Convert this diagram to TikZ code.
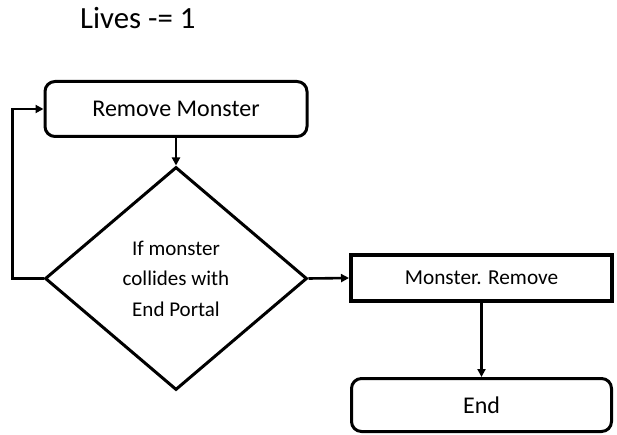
\documentclass[tikz,border=0pt]{standalone}
\usepackage{fontspec}
\setmainfont{Carlito}
\usetikzlibrary{shapes.geometric,arrows.meta}

\tikzset{
  roundbox/.style={draw, line width=3pt, rounded corners=10pt, inner sep=0pt,
    font=\fontsize{24}{28}\selectfont},
  plainbox/.style={draw, line width=4pt, inner sep=0pt,
    font=\fontsize{21.3}{25}\selectfont},
  decision/.style={draw, diamond, line width=3pt, inner sep=0pt, align=center,
    minimum width=262pt, minimum height=223pt,
    font=\fontsize{21}{30.5}\selectfont},
  flow/.style={line width=2.6pt, -{Triangle[length=8pt,width=8pt]}},
}

\begin{document}
\begin{tikzpicture}[x=1pt,y=-1pt]
  \useasboundingbox (0,0) rectangle (617,435);

  % heading
  \node[anchor=base west, inner sep=0pt, font=\fontsize{30.8}{36}\selectfont]
    (lives) at (80,29) {Lives -= 1};

  % flowchart steps
  \node[roundbox, minimum width=262pt, minimum height=55pt]
    (remove) at (176,109) {Remove Monster};
  \node[decision] (check) at (176,278.5)
    {If monster\\collides with\\End Portal};
  \node[plainbox, minimum width=261pt, minimum height=46pt]
    (mremove) at (481.5,278) {Monster. Remove};
  \node[roundbox, minimum width=260pt, minimum height=53pt]
    (end) at (481.5,405) {End};

  % connectors
  \coordinate (loop) at (12.5,0);
  \draw[flow] (remove.south) -- (check.north);
  \draw[flow, line join=miter] (check.west) -| (loop |- remove.west) -- (remove.west);
  \draw[flow] (check.east) -- (mremove.west);
  \draw[flow] (mremove.south) -- (end.north);
\end{tikzpicture}
\end{document}
